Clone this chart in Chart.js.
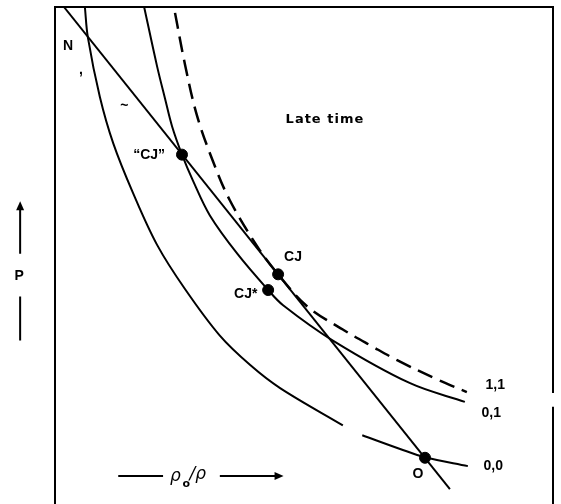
<!DOCTYPE html>
<html>
<head>
<meta charset="utf-8">
<script src="https://cdn.jsdelivr.net/npm/chart.js@4"></script>
<style>
  html, body { margin: 0; padding: 0; background: #fff; }
  canvas { display: block; }
</style>
</head>
<body>
<canvas id="hugoniot" width="561" height="504"></canvas>
<script>
// P against rho0/rho, both in arbitrary units (0-100 across the frame)
const curve00X = [6.0, 6.6, 9.0, 11.7, 15.7, 20.5, 26.1, 33.1, 39.2, 45.2, 57.8, 59.7, 61.7, 69.3, 74.3, 82.9];
const curve00Y = [100, 93.8, 81.7, 72.2, 62.0, 51.5, 42.5, 33.0, 27.0, 22.3, 14.7, null, 12.7, 9.9, 8.2, 6.4];

const curve01X = [17.9, 20.5, 22.1, 23.5, 25.5, 27.7, 31.1, 36.6, 42.8, 45.8, 55.8, 71.3, 82.3];
const curve01Y = [100, 87.9, 81.3, 75.7, 69.9, 64.6, 57.5, 49.7, 42.3, 39.2, 32.0, 23.3, 19.5];

const curve11X = [24.1, 26.1, 28.5, 31.7, 35.1, 40.8, 44.8, 50.6, 58.2, 63.7, 68.7, 76.7, 82.7];
const curve11Y = [98.8, 88.3, 77.9, 68.6, 60.6, 50.9, 45.5, 39.0, 34.0, 30.8, 28.0, 24.1, 21.5];

const rayleighX = [1.8, 79.3];
const rayleighY = [100, 1.7];

const dotX = [25.5, 44.8, 42.8, 74.3];
const dotY = [69.9, 45.5, 42.3, 8.1];

const labelText = ['N', ',', '~', '\u201CCJ\u201D', 'Late time', 'CJ', 'CJ*', '1,1', '0,1', '0,0', 'O'];
const labelX = [2.6, 5.2, 13.9, 18.9, 54.2, 47.8, 38.3, 88.4, 87.6, 88.0, 72.9];
const labelY = [92.0, 87.1, 79.7, 69.8, 77.1, 49.1, 41.5, 22.9, 17.3, 6.4, 4.8];

const frameGap = [18.5, 21.3];

const pts = (xs, ys) => xs.map((x, i) => ({ x: x, y: ys[i] }));

const decor = {
  id: 'decor',
  afterDatasetsDraw(chart) {
    const { ctx, scales: { x, y } } = chart;
    const px = v => x.getPixelForValue(v);
    const py = v => y.getPixelForValue(v);
    ctx.save();
    ctx.strokeStyle = '#000';
    ctx.fillStyle = '#000';
    ctx.lineWidth = 2;

    // frame, right side has a small break
    ctx.beginPath();
    ctx.moveTo(px(0), py(-2));
    ctx.lineTo(px(0), py(100));
    ctx.lineTo(px(100), py(100));
    ctx.lineTo(px(100), py(frameGap[1]));
    ctx.moveTo(px(100), py(frameGap[0]));
    ctx.lineTo(px(100), py(-2));
    ctx.stroke();

    // labels
    ctx.textAlign = 'center';
    ctx.textBaseline = 'middle';
    labelText.forEach((t, i) => {
      ctx.font = t === 'Late time' ? 'bold 13px "DejaVu Sans"' : 'bold 14px "Liberation Sans"';
      ctx.letterSpacing = t === 'Late time' ? '1px' : '0px';
      ctx.fillText(t, px(labelX[i]), py(labelY[i]));
    });
    ctx.letterSpacing = '0px';

    // P axis arrow
    ctx.lineWidth = 2;
    ctx.beginPath();
    ctx.moveTo(px(-7.0), py(49.7));
    ctx.lineTo(px(-7.0), py(59.4));
    ctx.moveTo(px(-7.0), py(41.0));
    ctx.lineTo(px(-7.0), py(32.0));
    ctx.stroke();
    ctx.beginPath();
    ctx.moveTo(px(-7.0), py(60.4));
    ctx.lineTo(px(-7.0) - 4, py(60.4) + 9);
    ctx.lineTo(px(-7.0) + 4, py(60.4) + 9);
    ctx.closePath();
    ctx.fill();
    ctx.font = 'bold 14px "Liberation Sans"';
    ctx.fillText('P', px(-7.2), py(45.1));

    // rho0/rho axis arrow
    ctx.beginPath();
    ctx.moveTo(px(12.7), py(4.4));
    ctx.lineTo(px(21.7), py(4.4));
    ctx.moveTo(px(33.1), py(4.4));
    ctx.lineTo(px(44.5), py(4.4));
    ctx.stroke();
    ctx.beginPath();
    ctx.moveTo(px(45.9), py(4.4));
    ctx.lineTo(px(45.9) - 9, py(4.4) - 4);
    ctx.lineTo(px(45.9) - 9, py(4.4) + 4);
    ctx.closePath();
    ctx.fill();
    ctx.textAlign = 'left';
    ctx.textBaseline = 'alphabetic';
    ctx.font = 'italic 17px "DejaVu Sans"';
    ctx.fillText('\u03C1', px(23.1), py(4.4) + 5);
    ctx.font = 'bold 11px "DejaVu Sans"';
    ctx.fillText('o', px(25.6), py(4.4) + 11);
    ctx.font = 'italic 17px "DejaVu Sans"';
    ctx.fillText('/\u03C1', px(27.0), py(4.4) + 3);
    ctx.restore();
  }
};

new Chart(document.getElementById('hugoniot'), {
  type: 'scatter',
  data: {
    datasets: [
      {
        data: pts(curve00X, curve00Y),
        showLine: true, borderColor: '#000', borderWidth: 2,
        pointRadius: 0, tension: 0.35, spanGaps: false
      },
      {
        data: pts(curve01X, curve01Y),
        showLine: true, borderColor: '#000', borderWidth: 2,
        pointRadius: 0, tension: 0.35
      },
      {
        data: pts(curve11X, curve11Y),
        showLine: true, borderColor: '#000', borderWidth: 2.5, borderDash: [16, 8],
        pointRadius: 0, tension: 0.35
      },
      {
        data: pts(rayleighX, rayleighY),
        showLine: true, borderColor: '#000', borderWidth: 2,
        pointRadius: 0
      },
      {
        data: pts(dotX, dotY),
        showLine: false, pointRadius: 5.5,
        pointBackgroundColor: '#000', pointBorderColor: '#000'
      }
    ]
  },
  options: {
    responsive: false,
    animation: false,
    layout: { padding: { left: 55, top: 7, right: 8, bottom: 0 } },
    plugins: { legend: { display: false }, tooltip: { enabled: false } },
    scales: {
      x: { type: 'linear', min: 0, max: 100, display: false },
      y: { type: 'linear', min: 0, max: 100, display: false }
    }
  },
  plugins: [decor]
});
</script>
</body>
</html>
